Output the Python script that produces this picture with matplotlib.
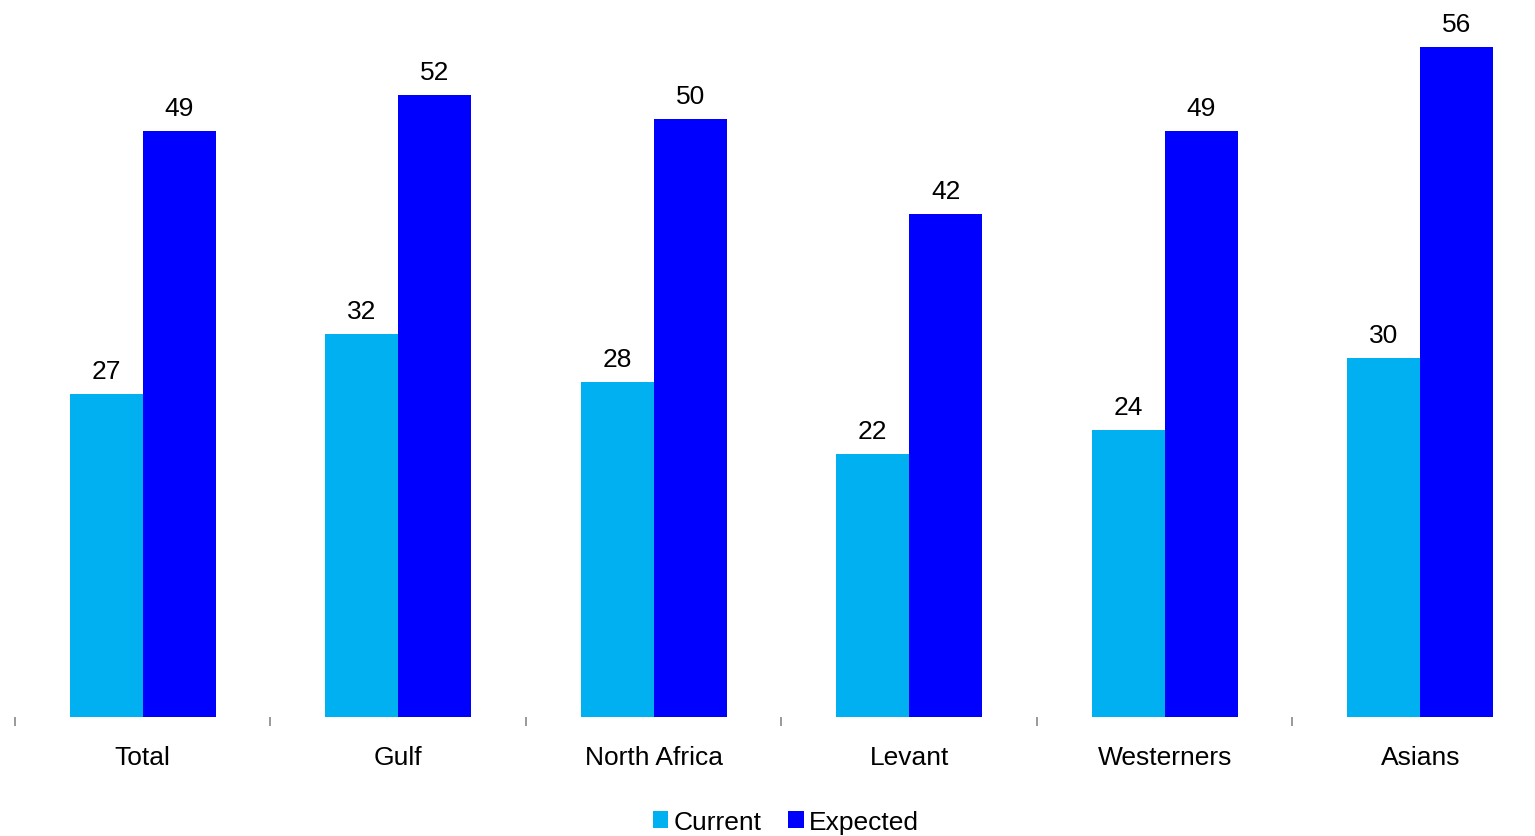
import matplotlib
matplotlib.use("Agg")
import matplotlib.pyplot as plt
from matplotlib.ticker import FixedLocator
import numpy as np

categories = ["Total", "Gulf", "North Africa", "Levant", "Westerners", "Asians"]
current = [27, 32, 28, 22, 24, 30]
expected = [49, 52, 50, 42, 49, 56]
series_names = ["Current", "Expected"]
colors = ["#00B0F0", "#0000FF"]

plt.rcParams['font.family'] = ['Liberation Sans', 'DejaVu Sans']

W, H = 1535, 837
fig = plt.figure(figsize=(W / 100, H / 100), dpi=100)
ax = fig.add_axes([15 / W, (H - 718) / H, 6 * 255.5 / W, 718 / H])

x = np.arange(len(categories))
w = 0.286
b1 = ax.bar(x - w / 2, current, w, color=colors[0], label=series_names[0])
b2 = ax.bar(x + w / 2, expected, w, color=colors[1], label=series_names[1])

for bars, vals in ((b1, current), (b2, expected)):
    for r, v in zip(bars, vals):
        ax.annotate(str(v), (r.get_x() + r.get_width() / 2, v),
                    xytext=(0, 11.5), textcoords='offset points',
                    ha='center', va='baseline', fontsize=19, color='black')

ax.set_xlim(-0.5, len(categories) - 0.5)
ax.set_ylim(0, 60)
for s in ax.spines.values():
    s.set_visible(False)
ax.set_yticks([])
ax.set_xticks(x)
ax.set_xticklabels(categories, fontsize=19)
ax.tick_params(axis='x', which='major', length=0, pad=20)
ax.xaxis.set_minor_locator(FixedLocator(np.arange(len(categories) + 1) - 0.5))
ax.tick_params(axis='x', which='minor', length=6.5, width=1.2, color='#888888', pad=0)

fig.legend(handles=[b1, b2], labels=series_names, loc='lower center',
           bbox_to_anchor=(0.512, -0.026), ncol=2, frameon=False, fontsize=19,
           handlelength=0.6, handleheight=0.6, handletextpad=0.2, columnspacing=1.0)

fig.savefig("out.png", dpi=100)
